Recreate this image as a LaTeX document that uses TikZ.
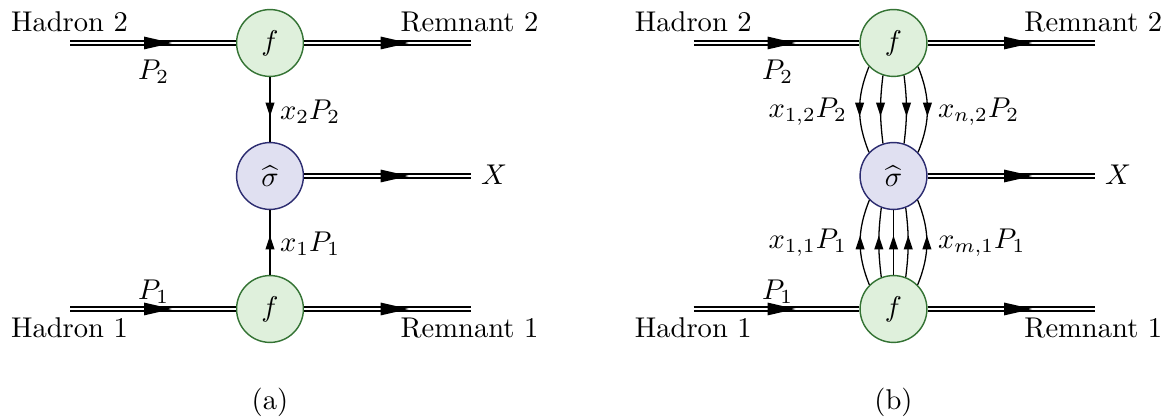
\documentclass[tikz,border=0pt]{standalone}
\usetikzlibrary{arrows.meta,decorations.markings}
\definecolor{pdfdraw}{RGB}{52,115,52}
\definecolor{pdffill}{RGB}{223,240,220}
\definecolor{hrddraw}{RGB}{44,44,112}
\definecolor{hrdfill}{RGB}{224,224,241}
\begin{document}
\begin{tikzpicture}[x=0.35pt,y=-0.35pt,
  blob/.style={circle, minimum size=23.4pt, inner sep=0pt, line width=0.5pt},
  pdfblob/.style={blob, draw=pdfdraw, fill=pdffill},
  hardblob/.style={blob, draw=hrddraw, fill=hrdfill},
  dbl/.style={draw=black, line width=0.45pt, double=white, double distance=0.9pt},
  parton/.style={draw=black, line width=0.45pt},
  bigarr/.style={postaction={decorate,decoration={markings,
      mark=at position #1 with {\fill[black] (0pt,0pt) -- (-9.8pt,2.25pt) -- (-9.8pt,-2.25pt) -- cycle;}}}},
  smallarr/.style={postaction={decorate,decoration={markings,
      mark=at position 0.5 with {\fill[black] (2.4pt,0pt) -- (-2.4pt,1.6pt) -- (-2.4pt,-1.6pt) -- cycle;}}}},
  lbl/.style={inner sep=0pt, outer sep=0pt}
]
\useasboundingbox (0,0) rectangle (1168,419);

% ---------------- panel (a) ----------------
\node[pdfblob] (fA2) at (270,43) {$f$};
\node[hardblob] (sA) at (270,176) {$\widehat{\sigma}$};
\node[pdfblob] (fA1) at (270,309) {$f$};
\coordinate (hA2) at (70,43);
\coordinate (rA2) at (471,43);
\coordinate (xA) at (471,176);
\coordinate (hA1) at (70,309);
\coordinate (rA1) at (471,309);

\draw[dbl, bigarr=35.7pt] (hA2) -- (fA2);
\draw[dbl, bigarr=36.6pt] (fA2) -- (rA2);
\draw[dbl, bigarr=36.6pt] (sA) -- (xA);
\draw[dbl, bigarr=35.7pt] (hA1) -- (fA1);
\draw[dbl, bigarr=36.6pt] (fA1) -- (rA1);
\draw[parton, smallarr] (fA2) -- (sA);
\draw[parton, smallarr] (fA1) -- (sA);

\node[lbl, anchor=base] (tHA2) at (69.5,32) {Hadron 2};
\node[lbl, anchor=base] (tRA2) at (469.5,32) {Remnant 2};
\node[lbl, anchor=base] (tHA1) at (69.5,338) {Hadron 1};
\node[lbl, anchor=base] (tRA1) at (469.5,338) {Remnant 1};
\node[lbl, anchor=north west] (pA2) at (138,60) {$P_2$};
\node[lbl, anchor=north west] (pA1) at (138,280) {$P_1$};
\node[lbl, anchor=west] (kA2) at (280,112) {$x_2P_2$};
\node[lbl, anchor=west] (kA1) at (280,243.5) {$x_1P_1$};
\node[lbl, anchor=base west] (XA) at (481,185) {$X$};
\node[lbl, anchor=base] (capA) at (270,410) {(a)};

% ---------------- panel (b) ----------------
\node[pdfblob] (fB2) at (893.5,43) {$f$};
\node[hardblob] (sB) at (893.5,176) {$\widehat{\sigma}$};
\node[pdfblob] (fB1) at (893.5,309) {$f$};
\coordinate (hB2) at (693.5,43);
\coordinate (rB2) at (1094.5,43);
\coordinate (xB) at (1094.5,176);
\coordinate (hB1) at (693.5,309);
\coordinate (rB1) at (1094.5,309);

\draw[dbl, bigarr=35.7pt] (hB2) -- (fB2);
\draw[dbl, bigarr=36.6pt] (fB2) -- (rB2);
\draw[dbl, bigarr=36.6pt] (sB) -- (xB);
\draw[dbl, bigarr=35.7pt] (hB1) -- (fB1);
\draw[dbl, bigarr=36.6pt] (fB1) -- (rB1);

% partons from hadron 2 (down)
\draw[parton, smallarr] (fB2.224) to[bend right=22] (sB.136);
\draw[parton, smallarr] (fB2.252) to[bend right=7] (sB.108);
\draw[parton, smallarr] (fB2.288) to[bend left=7] (sB.72);
\draw[parton, smallarr] (fB2.316) to[bend left=22] (sB.44);
% partons from hadron 1 (up)
\draw[parton, smallarr] (fB1.135) to[bend left=22] (sB.225);
\draw[parton, smallarr] (fB1.111) to[bend left=7] (sB.249);
\draw[parton, smallarr] (fB1) -- (sB);
\draw[parton, smallarr] (fB1.69) to[bend right=7] (sB.291);
\draw[parton, smallarr] (fB1.45) to[bend right=22] (sB.315);

\node[lbl, anchor=base] (tHB2) at (693.3,32) {Hadron 2};
\node[lbl, anchor=base] (tRB2) at (1093.3,32) {Remnant 2};
\node[lbl, anchor=base] (tHB1) at (693.3,338) {Hadron 1};
\node[lbl, anchor=base] (tRB1) at (1093.3,338) {Remnant 1};
\node[lbl, anchor=north west] (pB2) at (762,60) {$P_2$};
\node[lbl, anchor=north west] (pB1) at (762,280) {$P_1$};
\node[lbl, anchor=east] (kB12) at (847,112) {$x_{1,2}P_2$};
\node[lbl, anchor=west] (kBn2) at (938,112) {$x_{n,2}P_2$};
\node[lbl, anchor=east] (kB11) at (847,243) {$x_{1,1}P_1$};
\node[lbl, anchor=west] (kBm1) at (938,243) {$x_{m,1}P_1$};
\node[lbl, anchor=base west] (XB) at (1105,185) {$X$};
\node[lbl, anchor=base] (capB) at (893.5,410) {(b)};
\end{tikzpicture}
\end{document}
